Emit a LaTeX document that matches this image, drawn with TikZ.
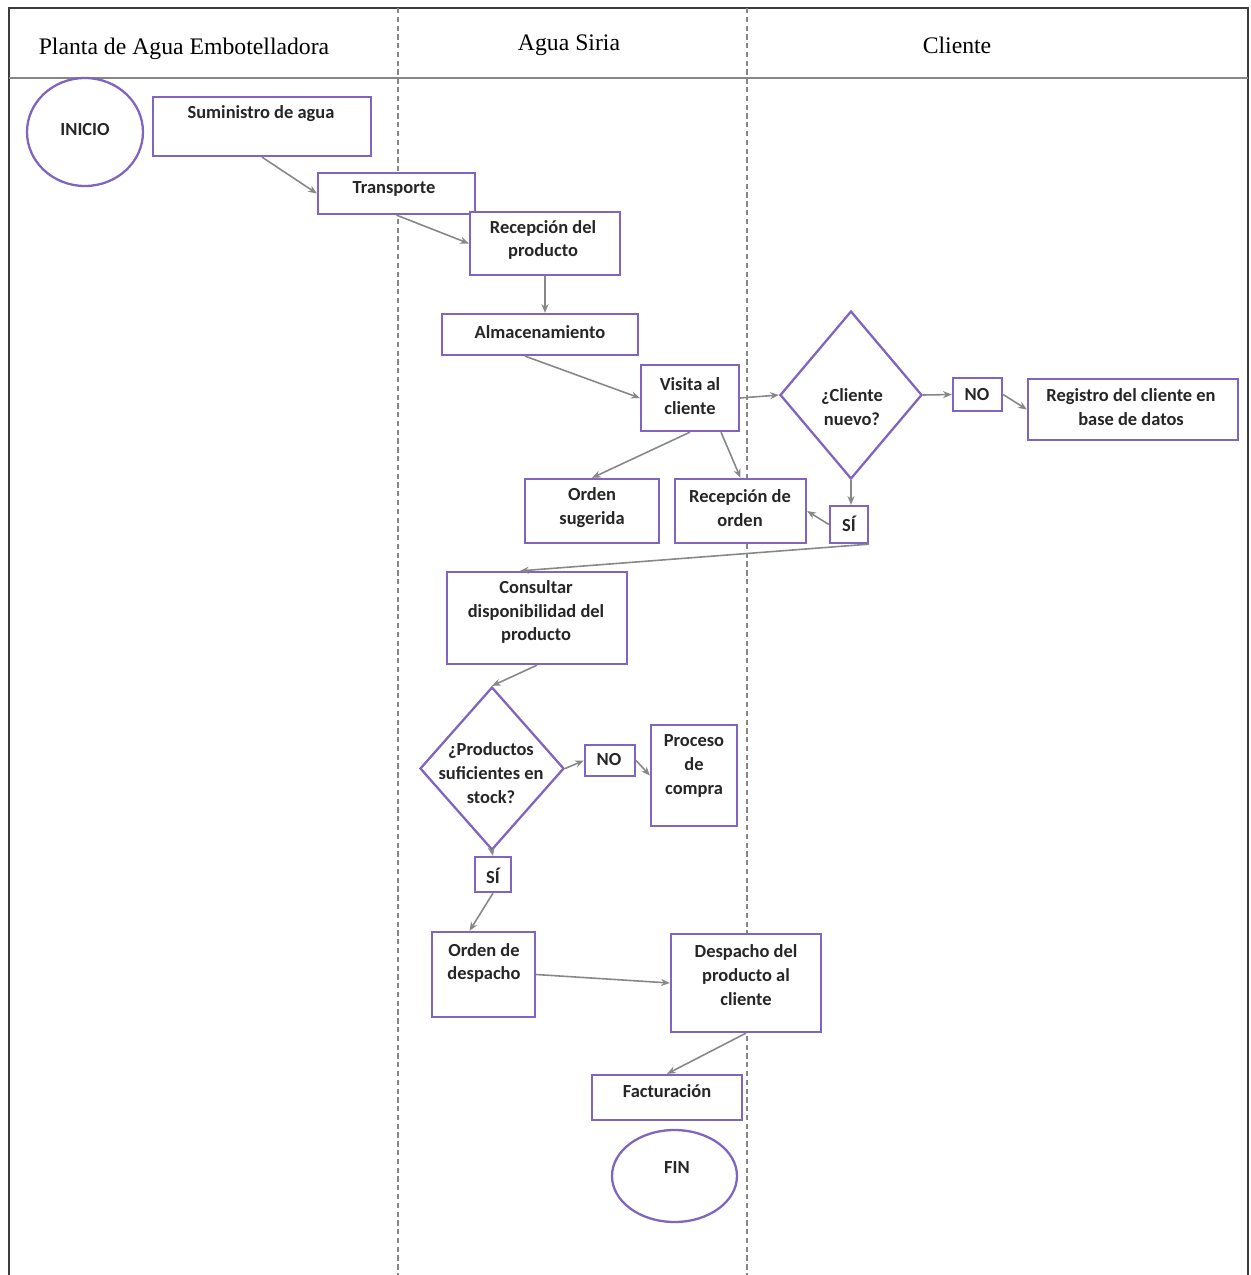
\documentclass[tikz,border=0pt]{standalone}
\usepackage{fontspec}
\setmainfont{Liberation Serif}
\newfontfamily\carl{Carlito}
\usetikzlibrary{shapes.geometric,arrows.meta,calc}
\definecolor{boxc}{RGB}{128,100,192}
\definecolor{arrc}{RGB}{135,135,135}
\definecolor{framec}{RGB}{60,60,60}
\tikzset{
  box/.style={draw=boxc, line width=1.3pt, rectangle, inner sep=0pt, fill=white},
  dia/.style={draw=boxc, line width=1.3pt, diamond, inner sep=0pt, fill=white},
  oval/.style={draw=boxc, line width=1.3pt, ellipse, inner sep=0pt, fill=white},
  txt/.style={font=\carl\bfseries\fontsize{10.5}{13.6}\selectfont, align=center, inner sep=0pt, text=black!85},
  head/.style={font=\fontsize{13.5}{16}\selectfont, inner sep=0pt, text=black},
  conn/.style={draw=arrc, line width=0.9pt, -{Stealth[length=5pt,width=4pt]}},
  lane/.style={draw=arrc, line width=0.8pt, dash pattern=on 3pt off 2pt},
  frame/.style={draw=framec, line width=1.1pt}
}
\begin{document}
\begin{tikzpicture}[x=0.02cm, y=-0.02cm]
\useasboundingbox (0,0) rectangle (1251,1275);
% frame
\draw[frame] (9,1275) -- (9,8) -- (1248,8) -- (1248,1275);
\draw[draw=arrc, line width=1.6pt] (9,78) -- (1248,78);
\draw[lane] (398,8) -- (398,1275);
\draw[lane] (747,8) -- (747,1275);
% headers
\node[head] (h1) at (184,49) {Planta de Agua Embotelladora};
\node[head] (h2) at (569,45) {Agua Siria};
\node[head] (h3) at (957,45) {Cliente};
% shapes
\node[oval, minimum width=2.32cm, minimum height=2.16cm] (inicio) at (85,132) {};
\node[box, minimum width=4.36cm, minimum height=1.18cm] (sum) at (262,126.5) {};
\node[box, minimum width=3.14cm, minimum height=0.82cm] (trans) at (396.5,193.5) {};
\node[box, minimum width=3.00cm, minimum height=1.26cm] (recep) at (545,243.5) {};
\node[box, minimum width=3.92cm, minimum height=0.82cm] (alma) at (540,334.5) {};
\node[box, minimum width=1.96cm, minimum height=1.32cm] (visita) at (690,398) {};
\node[dia, minimum width=2.84cm, minimum height=3.36cm] (dia1) at (851,395) {};
\node[box, minimum width=0.98cm, minimum height=0.66cm] (no1) at (977.5,394.5) {};
\node[box, minimum width=4.20cm, minimum height=1.22cm] (reg) at (1133,409.5) {};
\node[box, minimum width=2.68cm, minimum height=1.28cm] (osug) at (592,511) {};
\node[box, minimum width=2.62cm, minimum height=1.28cm] (rord) at (740.5,511) {};
\node[box, minimum width=0.76cm, minimum height=0.74cm] (si1) at (849,524.5) {};
\node[box, minimum width=3.60cm, minimum height=1.84cm] (cons) at (537,618) {};
\node[dia, minimum width=2.88cm, minimum height=3.26cm] (dia2) at (492,768.5) {};
\node[box, minimum width=1.00cm, minimum height=0.62cm] (no2) at (610,760.5) {};
\node[box, minimum width=1.72cm, minimum height=2.02cm] (proc) at (694,775.5) {};
\node[box, minimum width=0.72cm, minimum height=0.70cm] (si2) at (493,874.5) {};
\node[box, minimum width=2.06cm, minimum height=1.70cm] (odes) at (483.5,974.5) {};
\node[box, minimum width=3.00cm, minimum height=1.96cm] (desp) at (746,983) {};
\node[box, minimum width=3.00cm, minimum height=0.90cm] (fact) at (667,1097.5) {};
\node[oval, minimum width=2.50cm, minimum height=1.84cm] (fin) at (674.5,1176) {};
% texts
\node[txt] (tinicio) at (85,130) {INICIO};
\node[txt] (tsum) at (261,114) {Suministro de agua};
\node[txt] (ttrans) at (394,189) {Transporte};
\node[txt] (trecep) at (543,240) {Recepción del\\producto};
\node[txt] (talma) at (540,332) {Almacenamiento};
\node[txt] (tvisita) at (690,396) {Visita al\\cliente};
\node[txt] (tdia1) at (852,407) {¿Cliente\\nuevo?};
\node[txt] (tno1) at (977,395) {NO};
\node[txt] (treg) at (1131,407) {Registro del cliente en\\base de datos};
\node[txt] (tosug) at (592,508) {Orden\\sugerida};
\node[txt] (trord) at (740,508) {Recepción de\\orden};
\node[txt] (tsi1) at (849,524) {SÍ};
\node[txt] (tcons) at (536,612) {Consultar\\disponibilidad del\\producto};
\node[txt] (tdia2) at (491,773) {¿Productos\\suficientes en\\stock?};
\node[txt] (tno2) at (609,760) {NO};
\node[txt] (tproc) at (694,766) {Proceso\\de\\compra};
\node[txt] (tsi2) at (493,876) {SÍ};
\node[txt] (todes) at (484,963) {Orden de\\despacho};
\node[txt] (tdesp) at (746,975) {Despacho del\\producto al\\cliente};
\node[txt] (tfact) at (667,1091) {Facturación};
\node[txt] (tfin) at (677,1168) {FIN};
% connectors
\draw[conn] (sum.south) -- (trans.west);
\draw[conn] (trans.south) -- (recep.west);
\draw[conn] (recep.south) -- (recep.south |- alma.north);
\draw[conn] ([xshift=-0.3cm]alma.south) -- (visita.west);
\draw[conn] (visita.east) -- (dia1.west);
\draw[conn] (dia1.east) -- (no1.west);
\draw[conn] (no1.east) -- (reg.west);
\draw[conn] (visita.south) -- (osug.north);
\draw[conn] ([xshift=0.62cm]visita.south) -- (rord.north);
\draw[conn] (dia1.south) -- (dia1.south |- si1.north);
\draw[conn] (si1.west) -- (rord.east);
\draw[conn] (si1.south east) -- ([xshift=-0.34cm]cons.north);
\draw[conn] (cons.south) -- (dia2.north);
\draw[conn] (dia2.east) -- (no2.west);
\draw[conn] (no2.east) -- (proc.west);
\draw[conn] (dia2.south) -- (si2.north);
\draw[conn] (si2.south) -- ([xshift=-0.28cm]odes.north);
\draw[conn] (odes.east) -- (desp.west);
\draw[conn] (desp.south) -- (fact.north);
\end{tikzpicture}
\end{document}
